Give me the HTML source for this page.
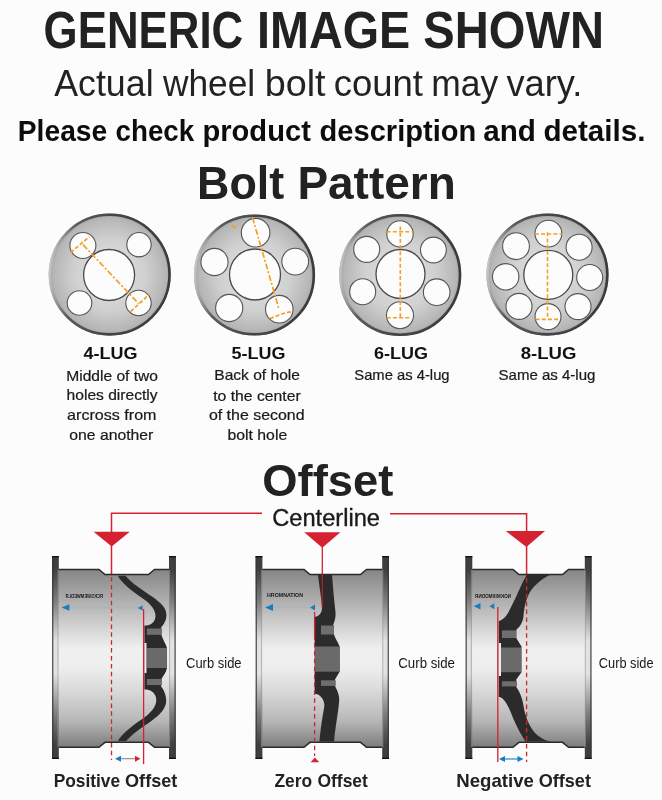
<!DOCTYPE html>
<html><head><meta charset="utf-8"><style>
html,body{margin:0;padding:0;background:#fcfcfc;}
svg{display:block;will-change:transform;}
text{font-family:"Liberation Sans",sans-serif;}
</style></head><body>
<svg width="662" height="800" viewBox="0 0 662 800">
<defs>
<radialGradient id="discg" cx="0.5" cy="0.5" r="0.5">
 <stop offset="0" stop-color="#e6e6e6"/><stop offset="0.6" stop-color="#cfcfcf"/><stop offset="0.93" stop-color="#b5b5b5"/><stop offset="1" stop-color="#9a9a9a"/>
</radialGradient>
<linearGradient id="rimg" x1="0" y1="0.45" x2="1" y2="0.55">
 <stop offset="0" stop-color="#c4c4c4"/><stop offset="0.18" stop-color="#5a5a5a"/><stop offset="0.5" stop-color="#454545"/><stop offset="1" stop-color="#3c3c3c"/>
</linearGradient>
<linearGradient id="barg" x1="0" y1="569" x2="0" y2="747" gradientUnits="userSpaceOnUse">
 <stop offset="0" stop-color="#858585"/><stop offset="0.15" stop-color="#a8a8a8"/><stop offset="0.45" stop-color="#f0f0f0"/><stop offset="0.55" stop-color="#eeeeee"/><stop offset="0.68" stop-color="#dadada"/><stop offset="0.85" stop-color="#b8b8b8"/><stop offset="1" stop-color="#7d7d7d"/>
</linearGradient>
<linearGradient id="flg" x1="0" y1="556" x2="0" y2="759" gradientUnits="userSpaceOnUse">
 <stop offset="0" stop-color="#3c3c3c"/><stop offset="0.07" stop-color="#404040"/><stop offset="0.22" stop-color="#7c7c7c"/><stop offset="0.42" stop-color="#e2e2e2"/><stop offset="0.58" stop-color="#e2e2e2"/><stop offset="0.78" stop-color="#7c7c7c"/><stop offset="0.93" stop-color="#404040"/><stop offset="1" stop-color="#3c3c3c"/>
</linearGradient>
</defs>
<rect width="662" height="800" fill="#fcfcfc"/>
<text x="43.6" y="47.6" font-size="50.9" font-weight="bold" fill="#222" textLength="199.6" lengthAdjust="spacingAndGlyphs">GENERIC</text>
<text x="257.07" y="47.6" font-size="50.9" font-weight="bold" fill="#222" textLength="153.15" lengthAdjust="spacingAndGlyphs">IMAGE</text>
<text x="423.34" y="47.6" font-size="50.9" font-weight="bold" fill="#222" textLength="180.63" lengthAdjust="spacingAndGlyphs">SHOWN</text>
<text x="54.23" y="95.8" font-size="36.9" font-weight="normal" fill="#222" textLength="99.36" lengthAdjust="spacingAndGlyphs">Actual</text>
<text x="162.95" y="95.8" font-size="36.9" font-weight="normal" fill="#222" textLength="92.21" lengthAdjust="spacingAndGlyphs">wheel</text>
<text x="264.77" y="95.8" font-size="36.9" font-weight="normal" fill="#222" textLength="60.81" lengthAdjust="spacingAndGlyphs">bolt</text>
<text x="333.65" y="95.8" font-size="36.9" font-weight="normal" fill="#222" textLength="89.32" lengthAdjust="spacingAndGlyphs">count</text>
<text x="431.25" y="95.8" font-size="36.9" font-weight="normal" fill="#222" textLength="66.92" lengthAdjust="spacingAndGlyphs">may</text>
<text x="506.48" y="95.8" font-size="36.9" font-weight="normal" fill="#222" textLength="75.83" lengthAdjust="spacingAndGlyphs">vary.</text>
<text x="17.81" y="140.6" font-size="29.7" font-weight="bold" fill="#0d0d0d" textLength="89.45" lengthAdjust="spacingAndGlyphs">Please</text>
<text x="115.52" y="140.6" font-size="29.7" font-weight="bold" fill="#0d0d0d" textLength="78.66" lengthAdjust="spacingAndGlyphs">check</text>
<text x="202.48" y="140.6" font-size="29.7" font-weight="bold" fill="#0d0d0d" textLength="108.38" lengthAdjust="spacingAndGlyphs">product</text>
<text x="319.61" y="140.6" font-size="29.7" font-weight="bold" fill="#0d0d0d" textLength="156.59" lengthAdjust="spacingAndGlyphs">description</text>
<text x="483.33" y="140.6" font-size="29.7" font-weight="bold" fill="#0d0d0d" textLength="52.62" lengthAdjust="spacingAndGlyphs">and</text>
<text x="543.38" y="140.6" font-size="29.7" font-weight="bold" fill="#0d0d0d" textLength="102.05" lengthAdjust="spacingAndGlyphs">details.</text>
<text x="197.0" y="198.5" font-size="46.5" font-weight="bold" fill="#222" textLength="87.15" lengthAdjust="spacingAndGlyphs">Bolt</text>
<text x="297.43" y="198.5" font-size="46.5" font-weight="bold" fill="#222" textLength="158.32" lengthAdjust="spacingAndGlyphs">Pattern</text>
<text x="53.64" y="787" font-size="19" font-weight="bold" fill="#222" textLength="66.45" lengthAdjust="spacingAndGlyphs">Positive</text>
<text x="125.06" y="787" font-size="19" font-weight="bold" fill="#222" textLength="52.26" lengthAdjust="spacingAndGlyphs">Offset</text>
<text x="274.48" y="787" font-size="19" font-weight="bold" fill="#222" textLength="37.7" lengthAdjust="spacingAndGlyphs">Zero</text>
<text x="317.48" y="787" font-size="19" font-weight="bold" fill="#222" textLength="50.43" lengthAdjust="spacingAndGlyphs">Offset</text>
<text x="456.25" y="787" font-size="19" font-weight="bold" fill="#222" textLength="77.68" lengthAdjust="spacingAndGlyphs">Negative</text>
<text x="538.66" y="787" font-size="19" font-weight="bold" fill="#222" textLength="52.26" lengthAdjust="spacingAndGlyphs">Offset</text>
<text x="83.5" y="358.6" font-size="17" font-weight="bold" fill="#111" textLength="54" lengthAdjust="spacingAndGlyphs">4-LUG</text>
<text x="66.2" y="380.6" font-size="15" font-weight="normal" fill="#1a1a1a" stroke="#1a1a1a" stroke-width="0.22" textLength="91.8" lengthAdjust="spacingAndGlyphs">Middle of two</text>
<text x="66.6" y="400.2" font-size="15" font-weight="normal" fill="#1a1a1a" stroke="#1a1a1a" stroke-width="0.22" textLength="91" lengthAdjust="spacingAndGlyphs">holes directly</text>
<text x="67.1" y="419.7" font-size="15" font-weight="normal" fill="#1a1a1a" stroke="#1a1a1a" stroke-width="0.22" textLength="89.4" lengthAdjust="spacingAndGlyphs">arcross from</text>
<text x="69.3" y="439.5" font-size="15" font-weight="normal" fill="#1a1a1a" stroke="#1a1a1a" stroke-width="0.22" textLength="84" lengthAdjust="spacingAndGlyphs">one another</text>
<text x="231.5" y="358.7" font-size="17" font-weight="bold" fill="#111" textLength="54" lengthAdjust="spacingAndGlyphs">5-LUG</text>
<text x="214.3" y="380.4" font-size="15" font-weight="normal" fill="#1a1a1a" stroke="#1a1a1a" stroke-width="0.22" textLength="85.6" lengthAdjust="spacingAndGlyphs">Back of hole</text>
<text x="213.2" y="400.6" font-size="15" font-weight="normal" fill="#1a1a1a" stroke="#1a1a1a" stroke-width="0.22" textLength="87.5" lengthAdjust="spacingAndGlyphs">to the center</text>
<text x="208.9" y="420.1" font-size="15" font-weight="normal" fill="#1a1a1a" stroke="#1a1a1a" stroke-width="0.22" textLength="95.7" lengthAdjust="spacingAndGlyphs">of the second</text>
<text x="227.5" y="439.9" font-size="15" font-weight="normal" fill="#1a1a1a" stroke="#1a1a1a" stroke-width="0.22" textLength="59.7" lengthAdjust="spacingAndGlyphs">bolt hole</text>
<text x="374.1" y="358.7" font-size="17" font-weight="bold" fill="#111" textLength="54" lengthAdjust="spacingAndGlyphs">6-LUG</text>
<text x="354.3" y="380.0" font-size="15" font-weight="normal" fill="#1a1a1a" stroke="#1a1a1a" stroke-width="0.22" textLength="95.3" lengthAdjust="spacingAndGlyphs">Same as 4-lug</text>
<text x="520.7" y="358.7" font-size="17" font-weight="bold" fill="#111" textLength="55.7" lengthAdjust="spacingAndGlyphs">8-LUG</text>
<text x="498.5" y="380.0" font-size="15" font-weight="normal" fill="#1a1a1a" stroke="#1a1a1a" stroke-width="0.22" textLength="96.9" lengthAdjust="spacingAndGlyphs">Same as 4-lug</text>
<text x="262.3" y="496.1" font-size="43.6" font-weight="bold" fill="#222" textLength="131" lengthAdjust="spacingAndGlyphs">Offset</text>
<text stroke="#1a1a1a" stroke-width="0.35" x="272.2" y="525.6" font-size="24.7" font-weight="normal" fill="#1a1a1a" textLength="107.8" lengthAdjust="spacingAndGlyphs">Centerline</text>
<text x="186" y="668" font-size="14.5" font-weight="normal" fill="#1a1a1a" textLength="55.6" lengthAdjust="spacingAndGlyphs">Curb side</text>
<text x="398.3" y="668" font-size="14.5" font-weight="normal" fill="#1a1a1a" textLength="56.7" lengthAdjust="spacingAndGlyphs">Curb side</text>
<text x="598.8" y="668" font-size="14.5" font-weight="normal" fill="#1a1a1a" textLength="54.7" lengthAdjust="spacingAndGlyphs">Curb side</text>
<circle cx="109.7" cy="274.6" r="61" fill="url(#discg)"/>
<circle cx="109.7" cy="274.6" r="59.8" fill="none" stroke="url(#rimg)" stroke-width="2.6"/>
<circle cx="109.1" cy="275" r="25.5" fill="#fcfcfc" stroke="#4a4a4a" stroke-width="1.3"/>
<circle cx="82.9" cy="245.5" r="13" fill="#fcfcfc" stroke="#555" stroke-width="1.1"/>
<circle cx="139" cy="244.7" r="12.2" fill="#fcfcfc" stroke="#555" stroke-width="1.1"/>
<circle cx="79.5" cy="303" r="12.3" fill="#fcfcfc" stroke="#555" stroke-width="1.1"/>
<circle cx="138.5" cy="303" r="12.7" fill="#fcfcfc" stroke="#555" stroke-width="1.1"/>
<g stroke="#f4a024" stroke-width="1.7" fill="none"><line x1="83" y1="244.7" x2="138.6" y2="303.6" stroke-dasharray="6 2 2 2"/><line x1="70.6" y1="252.6" x2="89.4" y2="236.7" stroke-dasharray="4 2"/><line x1="130.6" y1="311.5" x2="149.9" y2="294" stroke-dasharray="4 2"/></g>
<circle cx="254.5" cy="275" r="60.5" fill="url(#discg)"/>
<circle cx="254.5" cy="275" r="59.3" fill="none" stroke="url(#rimg)" stroke-width="2.6"/>
<circle cx="255" cy="274.5" r="25.5" fill="#fcfcfc" stroke="#4a4a4a" stroke-width="1.3"/>
<circle cx="255.6" cy="232.7" r="14.3" fill="#fcfcfc" stroke="#555" stroke-width="1.1"/>
<circle cx="214.5" cy="262" r="13.6" fill="#fcfcfc" stroke="#555" stroke-width="1.1"/>
<circle cx="295.2" cy="261.6" r="13.4" fill="#fcfcfc" stroke="#555" stroke-width="1.1"/>
<circle cx="229.2" cy="308" r="13.6" fill="#fcfcfc" stroke="#555" stroke-width="1.1"/>
<circle cx="279.3" cy="309.2" r="13.8" fill="#fcfcfc" stroke="#555" stroke-width="1.1"/>
<g stroke="#f4a024" stroke-width="1.7" fill="none"><line x1="252.5" y1="217.5" x2="279" y2="309.2" stroke-dasharray="6 2 2 2"/><path d="M270 318.5 L284 313.2 L289.5 312 L292.5 313.5" stroke-dasharray="4 2"/><line x1="231.5" y1="225" x2="236" y2="228"/></g>
<circle cx="400.2" cy="275" r="61" fill="url(#discg)"/>
<circle cx="400.2" cy="275" r="59.8" fill="none" stroke="url(#rimg)" stroke-width="2.6"/>
<circle cx="400.5" cy="274" r="24.5" fill="#fcfcfc" stroke="#4a4a4a" stroke-width="1.3"/>
<circle cx="400" cy="233.9" r="13.2" fill="#fcfcfc" stroke="#555" stroke-width="1.1"/>
<circle cx="400" cy="315.2" r="13.5" fill="#fcfcfc" stroke="#555" stroke-width="1.1"/>
<circle cx="366.7" cy="249.4" r="13" fill="#fcfcfc" stroke="#555" stroke-width="1.1"/>
<circle cx="433.4" cy="250" r="12.9" fill="#fcfcfc" stroke="#555" stroke-width="1.1"/>
<circle cx="362.7" cy="291.7" r="13" fill="#fcfcfc" stroke="#555" stroke-width="1.1"/>
<circle cx="436.7" cy="292.2" r="13.3" fill="#fcfcfc" stroke="#555" stroke-width="1.1"/>
<g stroke="#f4a024" stroke-width="1.6" fill="none" stroke-dasharray="4 2.2"><line x1="400.3" y1="226.5" x2="400.3" y2="317.8"/><line x1="386.7" y1="231.7" x2="413.2" y2="231.7"/><line x1="386.7" y1="317.8" x2="410.9" y2="317.8"/></g>
<circle cx="547.5" cy="274.6" r="61" fill="url(#discg)"/>
<circle cx="547.5" cy="274.6" r="59.8" fill="none" stroke="url(#rimg)" stroke-width="2.6"/>
<circle cx="548.3" cy="274.8" r="24.5" fill="#fcfcfc" stroke="#4a4a4a" stroke-width="1.3"/>
<circle cx="548.4" cy="233.6" r="13.4" fill="#fcfcfc" stroke="#555" stroke-width="1.1"/>
<circle cx="548" cy="316.6" r="13" fill="#fcfcfc" stroke="#555" stroke-width="1.1"/>
<circle cx="516" cy="246.2" r="13.4" fill="#fcfcfc" stroke="#555" stroke-width="1.1"/>
<circle cx="579.1" cy="247.2" r="13" fill="#fcfcfc" stroke="#555" stroke-width="1.1"/>
<circle cx="505.7" cy="276.8" r="13.2" fill="#fcfcfc" stroke="#555" stroke-width="1.1"/>
<circle cx="589.7" cy="277.5" r="13" fill="#fcfcfc" stroke="#555" stroke-width="1.1"/>
<circle cx="519" cy="306.4" r="13" fill="#fcfcfc" stroke="#555" stroke-width="1.1"/>
<circle cx="578" cy="306.6" r="13" fill="#fcfcfc" stroke="#555" stroke-width="1.1"/>
<g stroke="#f4a024" stroke-width="1.6" fill="none" stroke-dasharray="4 2.2"><line x1="547.5" y1="232.2" x2="547.5" y2="318.3"/><line x1="534.8" y1="234" x2="562" y2="234"/><line x1="535.5" y1="319.4" x2="559.8" y2="319.4"/></g>
<path d="M111.5 574.5 V513.3 H262 M390 513.8 H526.6 V577" stroke="#d42232" stroke-width="1.5" fill="none"/>
<path d="M93.6 531.7 H129.8 L111.7 546.5 Z" fill="#d42232"/>
<path d="M304.2 532.2 H340.4 L322.3 547.8 Z" fill="#d42232"/>
<path d="M505.8 531 H545 L526.4 547 Z" fill="#d42232"/>
<line x1="322.3" y1="546" x2="322.3" y2="574" stroke="#d42232" stroke-width="1.3"/>
<path d="M58.7 569.4 H99 L105 574.6 H148.5 L154.5 569.4 H169 V747.3 H154.5 L148.5 742.3 H105 L99 747.3 H58.7 Z" fill="url(#barg)"/>
<path d="M58.7 569.4 H99 L105 574.6 H148.5 L154.5 569.4 H169 M58.7 747.3 H99 L105 742.3 H148.5 L154.5 747.3 H169" fill="none" stroke="#2a2a2a" stroke-width="1.5"/>
<rect x="52" y="556" width="6.8" height="203" fill="url(#flg)"/>
<rect x="52" y="556" width="1.4" height="203" fill="#333" opacity="0.75"/>
<rect x="57.4" y="570" width="1.1" height="177" fill="#999" opacity="0.6"/>
<rect x="52" y="556" width="6.8" height="1.3" fill="#111"/>
<rect x="52" y="757.7" width="6.8" height="1.3" fill="#111"/>
<rect x="169" y="556" width="6.8" height="203" fill="url(#flg)"/>
<rect x="174.4" y="556" width="1.4" height="203" fill="#333" opacity="0.75"/>
<rect x="169" y="570" width="1.1" height="177" fill="#999" opacity="0.6"/>
<rect x="169" y="556" width="6.8" height="1.3" fill="#111"/>
<rect x="169" y="757.7" width="6.8" height="1.3" fill="#111"/>
<path d="M117.9 575.7 H125.6 C132 584 143 590 152 596.5 C161 603 166.5 608 166.4 615 C166.3 621 163.5 625 161 627.5 L161.4 628.3 V635 C163 640 166 644 167 648 V668 C166 673 163 676 161.4 679 V685 L161 686.5 C163.5 689 166.3 695 166.2 701 C166 708 161 714 152 720.5 C143 727 133 733 126.1 741.1 H117.9 C122 733 135 724 145 717 C153 711 157.5 704 156 697.5 C154.5 692 150 689.5 144.4 689.6 V625.5 C147 626 153 625 155 619 C157 613 153 606 145 600 C135 593 122 584 117.9 575.7 Z" fill="#2b2b2b"/>
<rect x="146.9" y="628.5" width="15" height="6.3" fill="#6e6e6e"/><rect x="146.9" y="648" width="20" height="20" fill="#6a6a6a"/><rect x="144.3" y="643" width="2.2" height="30" fill="#e8eef0"/><rect x="146.9" y="679" width="15" height="6" fill="#6e6e6e"/>
<line x1="111.5" y1="577" x2="111.5" y2="760" stroke="#d42232" stroke-width="1.3" stroke-dasharray="4.5 3.4"/><line x1="143.6" y1="609" x2="143.6" y2="764" stroke="#d42232" stroke-width="1.3"/><line x1="66" y1="607.7" x2="140" y2="607.7" stroke="#aab4ba" stroke-width="1.7"/><path d="M61.6 607.5 L69.3 604.3 V610.7 Z" fill="#1a7cc0"/><path d="M137.8 608 L142.6 605.5 V610.5 Z" fill="#1a7cc0"/><line x1="119" y1="758.7" x2="136" y2="758.7" stroke="#888" stroke-width="1.1"/><path d="M115 758.7 L121 755.7 V761.7 Z" fill="#1a7cc0"/><path d="M140.5 758.7 L135 755.7 V761.7 Z" fill="#d42232"/><text x="65.5" y="597.5" font-size="5.6" font-weight="bold" fill="#1a1a1a" textLength="37.5" lengthAdjust="spacingAndGlyphs" transform="translate(168.5 0) scale(-1 1)" >RCKSWEMWEDLR</text>
<path d="M262.3 569.4 H304 L310 574.6 H360.5 L366.5 569.4 H382.2 V747.3 H366.5 L360.5 742.3 H310 L304 747.3 H262.3 Z" fill="url(#barg)"/>
<path d="M262.3 569.4 H304 L310 574.6 H360.5 L366.5 569.4 H382.2 M262.3 747.3 H304 L310 742.3 H360.5 L366.5 747.3 H382.2" fill="none" stroke="#2a2a2a" stroke-width="1.5"/>
<rect x="255.6" y="556" width="6.8" height="203" fill="url(#flg)"/>
<rect x="255.6" y="556" width="1.4" height="203" fill="#333" opacity="0.75"/>
<rect x="261.0" y="570" width="1.1" height="177" fill="#999" opacity="0.6"/>
<rect x="255.6" y="556" width="6.8" height="1.3" fill="#111"/>
<rect x="255.6" y="757.7" width="6.8" height="1.3" fill="#111"/>
<rect x="382.2" y="556" width="6.8" height="203" fill="url(#flg)"/>
<rect x="387.59999999999997" y="556" width="1.4" height="203" fill="#333" opacity="0.75"/>
<rect x="382.2" y="570" width="1.1" height="177" fill="#999" opacity="0.6"/>
<rect x="382.2" y="556" width="6.8" height="1.3" fill="#111"/>
<rect x="382.2" y="757.7" width="6.8" height="1.3" fill="#111"/>
<path d="M318 574.5 H332 C333 588 334.5 603 335.5 612 C336 617 334.5 622 333 625 L334 625.5 V634.5 C335 638 338 642 339.6 646.5 V671.7 L335 679.5 V686 C337 690 339.5 695 339.2 700 C338.5 712 335 728 334.1 741.5 H319.5 C320.5 728 323 714 324.4 706 C324.5 699 320 694 314.6 693.7 V617 C318 616.5 322 613.5 322 608 C321.5 598 319 585 318 574.5 Z" fill="#2b2b2b"/>
<rect x="321" y="625.5" width="13" height="9" fill="#6e6e6e"/><rect x="315" y="646.5" width="24.8" height="25.2" fill="#6a6a6a"/><rect x="321" y="680.3" width="14.8" height="5.6" fill="#6e6e6e"/>
<line x1="314.6" y1="612" x2="314.6" y2="640" stroke="#d42232" stroke-width="1.3"/><line x1="314.6" y1="643" x2="314.6" y2="756" stroke="#d42232" stroke-width="1.3" stroke-dasharray="4.5 3.4"/><line x1="322.2" y1="574" x2="322.2" y2="608" stroke="#d42232" stroke-width="1"/><path d="M310.6 762.3 H319.2 L314.9 757.4 Z" fill="#d42232"/><line x1="270" y1="607.5" x2="311" y2="607.5" stroke="#aab4ba" stroke-width="1.4"/><path d="M265 607.5 L273 604 V611 Z" fill="#1a7cc0"/><path d="M310 607.5 L315 604.5 V610.5 Z" fill="#1a7cc0"/><text x="267" y="597.3" font-size="5.6" font-weight="bold" fill="#1a1a1a" textLength="36" lengthAdjust="spacingAndGlyphs">HROMNATION</text>
<path d="M472.2 569.4 H513 L519 574.6 H562.5 L568.5 569.4 H584.8 V747.3 H568.5 L562.5 742.3 H519 L513 747.3 H472.2 Z" fill="url(#barg)"/>
<path d="M472.2 569.4 H513 L519 574.6 H562.5 L568.5 569.4 H584.8 M472.2 747.3 H513 L519 742.3 H562.5 L568.5 747.3 H584.8" fill="none" stroke="#2a2a2a" stroke-width="1.5"/>
<rect x="465.5" y="556" width="6.8" height="203" fill="url(#flg)"/>
<rect x="465.5" y="556" width="1.4" height="203" fill="#333" opacity="0.75"/>
<rect x="470.9" y="570" width="1.1" height="177" fill="#999" opacity="0.6"/>
<rect x="465.5" y="556" width="6.8" height="1.3" fill="#111"/>
<rect x="465.5" y="757.7" width="6.8" height="1.3" fill="#111"/>
<rect x="584.8" y="556" width="6.8" height="203" fill="url(#flg)"/>
<rect x="590.1999999999999" y="556" width="1.4" height="203" fill="#333" opacity="0.75"/>
<rect x="584.8" y="570" width="1.1" height="177" fill="#999" opacity="0.6"/>
<rect x="584.8" y="556" width="6.8" height="1.3" fill="#111"/>
<rect x="584.8" y="757.7" width="6.8" height="1.3" fill="#111"/>
<path d="M526.7 575 H549.5 C540 580 532 587 528.5 595 C525 602 524 610 523.5 616 C523 622 520 627 516.3 629.7 V638 L521.5 646.4 V672.2 L516.3 679.6 V687 C520 692 522.5 699 523.5 706 C525 716 529 726 535 733 C540 738 545 740.5 551 741.5 H525.5 C521 735 517 727 513 718 C510 710 507 703 503 699 C501.5 697.5 500 697 498.7 697 V621 C500 621 503 619.5 506 616 C509 612 512 605 516 597 C519 590 522 583 526.7 575 Z" fill="#2b2b2b"/>
<rect x="502" y="630.4" width="14.3" height="7.6" fill="#6e6e6e"/><rect x="501" y="647.5" width="20" height="24.7" fill="#6a6a6a"/><rect x="498.6" y="643" width="2.4" height="33" fill="#e8eef0"/><rect x="502" y="681.3" width="15" height="5.1" fill="#6e6e6e"/>
<line x1="526.6" y1="578" x2="526.6" y2="762" stroke="#d42232" stroke-width="1.3" stroke-dasharray="4.5 3.4"/><line x1="497.8" y1="607" x2="497.8" y2="762" stroke="#d42232" stroke-width="1.3"/><line x1="478" y1="606.3" x2="491" y2="606.3" stroke="#aab4ba" stroke-width="1.8"/><path d="M473.7 606.3 L480.5 603 V609.6 Z" fill="#1a7cc0"/><path d="M489.5 606.3 L494.3 603.3 V609.3 Z" fill="#1a7cc0"/><line x1="502" y1="759" x2="521" y2="759" stroke="#1a7cc0" stroke-width="1.1"/><path d="M499 759 L505 756 V762 Z" fill="#1a7cc0"/><path d="M523.5 759 L517.5 756 V762 Z" fill="#1a7cc0"/><text x="474.8" y="597.5" font-size="5.6" font-weight="bold" fill="#1a1a1a" textLength="36" lengthAdjust="spacingAndGlyphs" transform="translate(985.8 0) scale(-1 1)">NOKMIXMODNR</text>
</svg>
</body></html>
